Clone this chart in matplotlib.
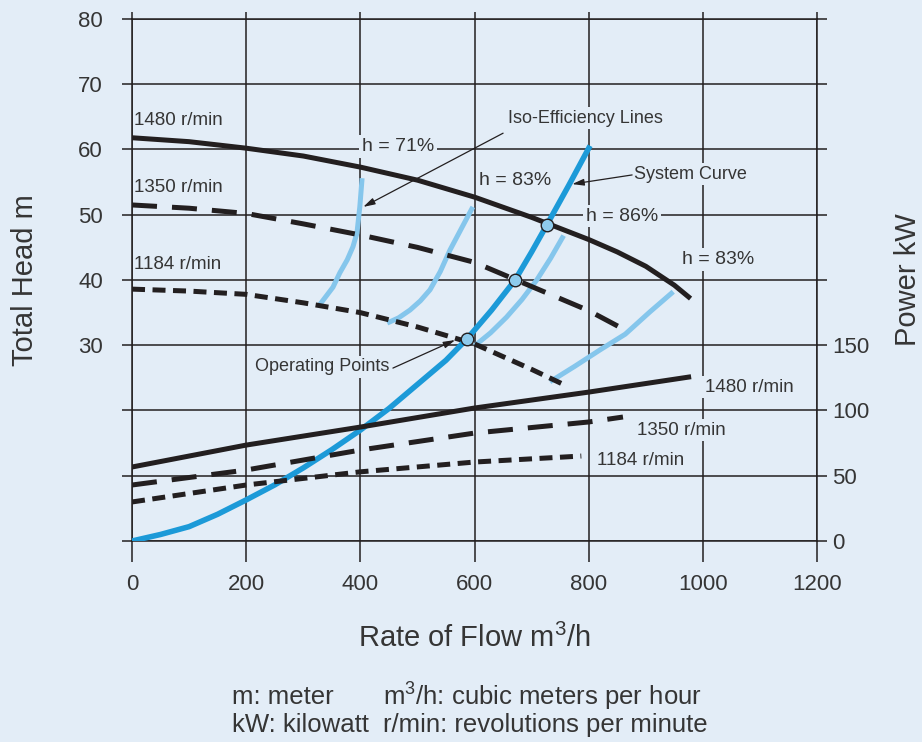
import matplotlib
matplotlib.use("Agg")
import matplotlib.pyplot as plt

plt.rcParams["font.family"] = ["Liberation Sans", "DejaVu Sans"]
plt.rcParams["mathtext.fontset"] = "custom"
plt.rcParams["mathtext.rm"] = "Liberation Sans"
plt.rcParams["mathtext.it"] = "Liberation Sans:italic"

bg = "#e3edf7"
ink = "#231f20"
txt = "#353535"
blue = "#1c9ad8"
light_blue = "#85c6ec"

# Pump head curves (m) against flow (m3/h)
flow_1480 = [0, 100, 200, 300, 400, 500, 600, 700, 800, 850, 900, 950, 975]
head_1480 = [61.8, 61.2, 60.2, 59.0, 57.3, 55.3, 52.7, 49.6, 46.2, 44.3, 42.1, 39.2, 37.4]
flow_1350 = [0, 100, 200, 300, 400, 500, 600, 700, 800, 858]
head_1350 = [51.5, 51.0, 50.2, 48.6, 46.9, 45.0, 42.7, 39.0, 35.3, 32.6]
flow_1184 = [0, 100, 200, 300, 400, 500, 600, 700, 758]
head_1184 = [38.6, 38.3, 37.8, 36.5, 35.0, 32.8, 30.2, 26.3, 23.9]

# Power curves (kW)
pflow_1480 = [0, 200, 400, 600, 800, 975]
power_1480 = [56.7, 73.5, 87.3, 101.9, 114.1, 125.6]
pflow_1350 = [0, 200, 400, 600, 800, 860]
power_1350 = [42.9, 54.4, 69.7, 82.7, 91.2, 95.0]
pflow_1184 = [0, 200, 400, 600, 787]
power_1184 = [29.9, 42.9, 53.0, 60.5, 65.1]

# System curve
sys_flow = [0, 50, 100, 150, 200, 250, 300, 350, 400, 450, 500, 550, 587, 630,
            671, 700, 727, 765, 800]
sys_head = [0, 1.0, 2.2, 4.1, 6.3, 8.6, 11.2, 14.0, 17.0, 20.3, 24.0, 27.7, 31.0,
            35.4, 40.0, 44.3, 48.5, 54.5, 60.2]

# Operating points
op_flow = [587, 671, 727]
op_head = [31.0, 40.0, 48.5]

# Iso-efficiency lines
eff71_flow = [326, 352, 364, 377, 387, 394, 399, 403]
eff71_head = [35.9, 38.9, 41.1, 43.1, 45.1, 47.2, 51.2, 55.6]
eff83a_flow = [447, 467, 487, 505, 522, 540, 557, 577, 597]
eff83a_head = [33.4, 34.2, 35.4, 36.8, 38.5, 41.3, 44.6, 47.9, 51.2]
eff86_flow = [600, 628, 656, 683, 709, 733, 756]
eff86_head = [29.9, 31.9, 34.3, 37.0, 40.0, 43.3, 46.8]
eff83b_flow = [732, 776, 820, 864, 907, 948]
eff83b_head = [24.4, 26.8, 29.3, 31.7, 35.1, 38.2]

speeds = ["1480 r/min", "1350 r/min", "1184 r/min"]
eff_labels = ["h = 71%", "h = 83%", "h = 86%", "h = 83%"]

fig = plt.figure(figsize=(9.22, 7.42), dpi=100, facecolor=bg)
ax = fig.add_axes([0.1432, 0.2709, 0.743, 0.7035])
ax.set_facecolor(bg)
ax.set_xlim(0, 1200)
ax.set_ylim(0, 80)

# grid and ticks
ax.grid(True, color=ink, lw=1.1)
ax.set_axisbelow(True)
for s in ax.spines.values():
    s.set_color(ink)
    s.set_linewidth(1.1)
ax.set_xticks(range(0, 1201, 200))
ax.set_yticks(range(0, 81, 10))
ax.set_yticklabels(["" if v < 30 else str(v) for v in range(0, 81, 10)])
ax.tick_params(axis="x", length=15, width=1.1, color=ink, labelsize=16,
               labelcolor=txt, pad=9)
ax.tick_params(axis="y", length=7, width=1.1, color=ink, labelsize=16,
               labelcolor=txt, pad=14)
top = ax.secondary_xaxis("top")
top.set_xticks(range(0, 1201, 200))
top.tick_params(length=5, width=1.1, color=ink, labeltop=False)
top.spines["top"].set_visible(False)

# iso-efficiency lines
for fx, hy in [(eff71_flow, eff71_head), (eff83a_flow, eff83a_head),
               (eff86_flow, eff86_head), (eff83b_flow, eff83b_head)]:
    ax.plot(fx, hy, color=light_blue, lw=3.6, solid_capstyle="butt",
            solid_joinstyle="round", zorder=2)

# head curves
ax.plot(flow_1480, head_1480, color=ink, lw=3.6, zorder=3)
ax.plot(flow_1350, head_1350, color=ink, lw=3.6, ls=(0, (5, 3)), zorder=3)
ax.plot(flow_1184, head_1184, color=ink, lw=3.6, ls=(0, (2.6, 1.5)), zorder=3)

# system curve and operating points
ax.plot(sys_flow, sys_head, color=blue, lw=4.0, solid_joinstyle="round", zorder=4)
ax.plot(op_flow, op_head, "o", ms=9, mfc="#8ecbed", mec=ink, mew=1.0, zorder=5)

# power axis
ax2 = ax.twinx()
ax2.set_ylim(0, 400)
for s in ax2.spines.values():
    s.set_visible(False)
ax2.set_yticks(range(0, 401, 50))
ax2.set_yticklabels([str(v) if v <= 150 else "" for v in range(0, 401, 50)])
ax2.tick_params(axis="y", length=7, width=1.1, color=ink, labelsize=16,
                labelcolor=txt, pad=4)

ax2.plot(pflow_1480, power_1480, color=ink, lw=3.6)
ax2.plot(pflow_1350, power_1350, color=ink, lw=3.6, ls=(0, (5, 3)))
ax2.plot(pflow_1184, power_1184, color=ink, lw=3.6, ls=(0, (2.6, 1.5)))

box = dict(boxstyle="square,pad=0.15", fc=bg, ec="none")
tr = ax.transData

# speed labels
for lab, hy in zip(speeds, [64.5, 54.1, 42.3]):
    ax2.text(3, hy, lab, transform=tr, fontsize=13.5, color=txt,
             ha="left", va="center")
for lab, fx, hy in zip(speeds, [1004, 885, 815], [23.6, 17.0, 12.3]):
    ax2.text(fx, hy, lab, transform=tr, fontsize=13.5, color=txt,
             ha="left", va="center", bbox=box)

# efficiency labels
for lab, fx, hy in zip(eff_labels, [466, 671, 858, 1027], [60.4, 55.3, 49.8, 43.1]):
    ax2.text(fx, hy, lab, transform=tr, fontsize=14, color=txt,
             ha="center", va="center", bbox=box)

# callouts
arrow = dict(arrowstyle="-|>,head_length=0.7,head_width=0.2", color=ink,
             lw=0.9, shrinkA=0, shrinkB=0)
ax2.text(794, 64.8, "Iso-Efficiency Lines", transform=tr, fontsize=13,
         color=txt, ha="center", va="center", bbox=box)
ax2.annotate("", xy=(405, 51.2), xytext=(650, 62.5), xycoords=tr,
             textcoords=tr, arrowprops=arrow)
ax2.text(978, 56.2, "System Curve", transform=tr, fontsize=13,
         color=txt, ha="center", va="center", bbox=box)
ax2.annotate("", xy=(771, 54.7), xytext=(876, 56.1), xycoords=tr,
             textcoords=tr, arrowprops=arrow)
ax2.text(333, 26.7, "Operating Points", transform=tr, fontsize=13,
         color=txt, ha="center", va="center", bbox=box)
ax2.annotate("", xy=(566, 30.8), xytext=(457, 26.5), xycoords=tr,
             textcoords=tr, arrowprops=arrow)

# axis titles
fig.text(0.514, 0.140, "Rate of Flow m$^3$/h", fontsize=21, color=txt,
         ha="center", va="center")
fig.text(0.027, 0.623, "Total Head m", fontsize=21, color=txt,
         ha="center", va="center", rotation=90)
fig.text(0.985, 0.623, "Power kW", fontsize=21, color=txt,
         ha="center", va="center", rotation=90)

# footnotes
fig.text(0.2516, 0.0606, "m: meter", fontsize=18.5, color=txt, va="center")
fig.text(0.2516, 0.0229, "kW: kilowatt", fontsize=18.5, color=txt, va="center")
fig.text(0.4154, 0.0606, "m$^3$/h: cubic meters per hour", fontsize=18.5,
         color=txt, va="center")
fig.text(0.4154, 0.0229, "r/min: revolutions per minute", fontsize=18.5,
         color=txt, va="center")

fig.savefig("out.png", dpi=100, facecolor=bg)
